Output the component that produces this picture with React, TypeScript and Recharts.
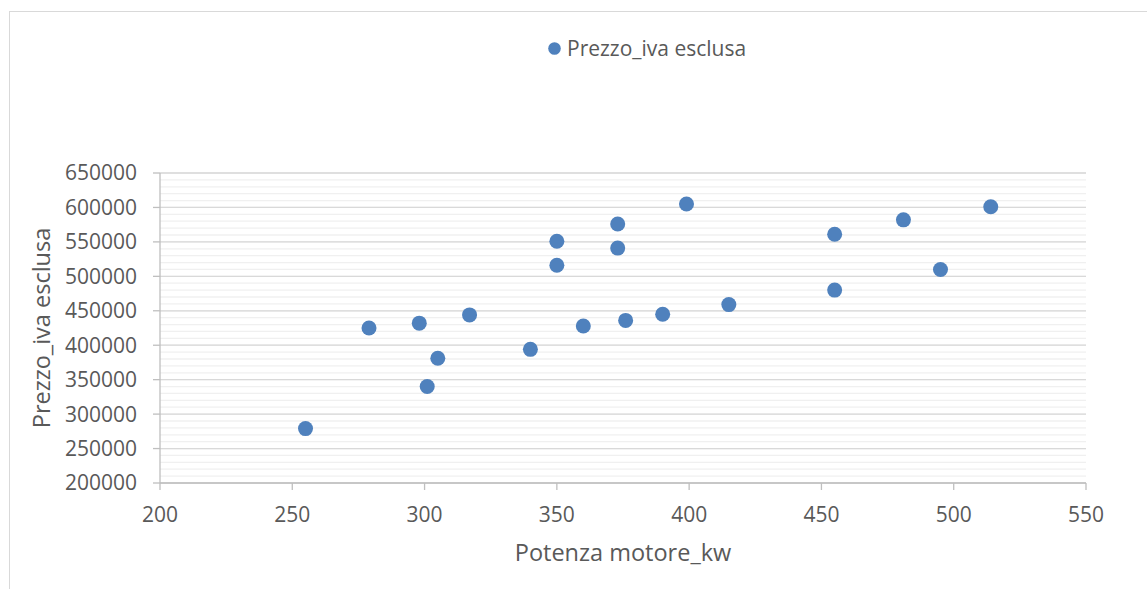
import {
  CartesianGrid,
  Legend,
  Scatter,
  ScatterChart,
  XAxis,
  YAxis,
} from "recharts";

const potenzaKw = [
  255, 279, 298, 301, 305, 317, 340, 350, 350, 360, 373, 373, 376, 390, 399, 415, 455, 455, 481,
  495, 514,
];
const prezzoIvaEsclusa = [
  279000, 425000, 432000, 340000, 381000, 444000, 394000, 551000, 516000, 428000, 576000, 541000,
  436000, 445000, 605000, 459000, 561000, 480000, 582000, 510000, 601000,
];
const xTicks = [200, 250, 300, 350, 400, 450, 500, 550];
const yTicks = [200000, 250000, 300000, 350000, 400000, 450000, 500000, 550000, 600000, 650000];
// minor gridlines every 10000
const yMinor = Array.from({ length: 46 }, (_, i) => 200000 + i * 10000);

const points = potenzaKw.map((x, i) => ({ x, y: prezzoIvaEsclusa[i] }));

const textColor = "#595959";
const dotColor = "#4F81BD";
const font = "'Open Sans', sans-serif";

function Dot(props: any) {
  const { cx, cy } = props;
  return <circle cx={cx} cy={cy} r={7.5} fill={dotColor} />;
}

function LegendBox() {
  return (
    <div style={{ display: "flex", alignItems: "center", fontFamily: font, fontSize: 21, color: textColor }}>
      <svg width={13} height={13} style={{ marginRight: 6 }}>
        <circle cx={6.5} cy={6.5} r={6.3} fill={dotColor} />
      </svg>
      <span>Prezzo_iva esclusa</span>
    </div>
  );
}

export default function App() {
  return (
    <div
      style={{
        position: "absolute",
        left: 0,
        top: 0,
        width: 1147,
        height: 589,
        background: "#fff",
        overflow: "hidden",
      }}
    >
      <div
        style={{
          position: "absolute",
          left: 9,
          top: 11,
          width: 1300,
          height: 700,
          border: "1px solid #d9d9d9",
        }}
      />
      <div style={{ position: "absolute", left: 0, top: 0 }}>
        <ScatterChart
          width={1147}
          height={589}
          margin={{ top: 173, right: 61, bottom: 0, left: 0 }}
          style={{ fontFamily: font }}
        >
          <CartesianGrid
            vertical={false}
            horizontalValues={yMinor}
            stroke="#f0f0f0"
            strokeWidth={1.3}
          />
          <CartesianGrid vertical={false} horizontalValues={yTicks} stroke="#d9d9d9" strokeWidth={1.3} />
          <XAxis
            type="number"
            dataKey="x"
            domain={[200, 550]}
            ticks={xTicks}
            interval={0}
            height={106}
            tickSize={7}
            tickMargin={17}
            stroke="#bfbfbf"
            strokeWidth={1.3}
            tick={{ fill: textColor, fontSize: 21 }}
            label={{
              value: "Potenza motore_kw",
              position: "insideBottom",
              offset: 28,
              fill: textColor,
              fontSize: 23.5,
            }}
          />
          <YAxis
            type="number"
            dataKey="y"
            domain={[200000, 650000]}
            ticks={yTicks}
            interval={0}
            width={160}
            tickSize={7}
            tickMargin={16}
            stroke="#bfbfbf"
            strokeWidth={1.3}
            tick={{ fill: textColor, fontSize: 21 }}
            label={{
              value: "Prezzo_iva esclusa",
              angle: -90,
              position: "insideLeft",
              offset: 42,
              fill: textColor,
              fontSize: 23.5,
              style: { textAnchor: "middle" },
            }}
          />
          <Legend
            layout="horizontal"
            verticalAlign="middle"
            align="center"
            wrapperStyle={{ top: 34, left: 548, width: "auto" }}
            content={() => <LegendBox />}
          />
          <Scatter
            name="Prezzo_iva esclusa"
            data={points}
            fill={dotColor}
            shape={Dot}
            isAnimationActive={false}
          />
        </ScatterChart>
      </div>
    </div>
  );
}
